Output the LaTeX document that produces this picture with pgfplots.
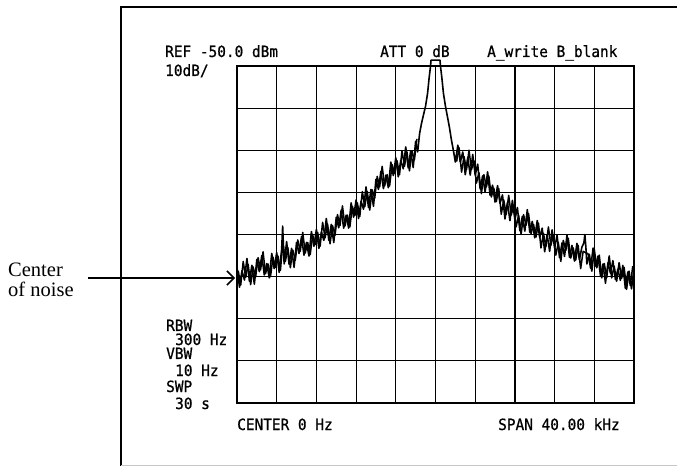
\documentclass[border=0pt]{standalone}
\usepackage{fontspec}
\newfontfamily\plotfont[FakeStretch=0.93,FakeBold=0.8]{DejaVu Sans Mono}
\newfontfamily\capfont{Liberation Serif}
\usepackage{pgfplots}
\pgfplotsset{compat=1.18}
\usetikzlibrary{arrows.meta}

\begin{document}
\begin{tikzpicture}[x=1pt,y=1pt]
\path[use as bounding box] (0,0) rectangle (677,466);
% outer frame of the scanned page
\draw[line width=1.3pt] (121,0) -- (121,459) -- (677,459);
\draw[gray!45, line width=0.8pt] (121,1) -- (677,1);

\begin{axis}[
    at={(237pt,63pt)}, anchor=south west,
    scale only axis, width=397pt, height=337pt,
    xmin=-20, xmax=20, ymin=-130, ymax=-50,
    xtick={-20,-16,...,20}, ytick={-130,-120,...,-50},
    xticklabels={}, yticklabels={},
    major tick length=0pt,
    grid=major, grid style={black, line width=1.2pt},
    axis line style={line width=1.4pt},
    clip=false,
]
% spectrum trace: frequency (kHz), level (dBm)
\addplot[black, line width=1.6pt, line join=round] coordinates {
(-20.00,-97.8) (-19.75,-102.5) (-19.50,-98.6) (-19.25,-100.8) (-19.00,-95.7)
(-18.75,-101.1) (-18.50,-97.3) (-18.25,-101.8) (-18.00,-95.9) (-17.75,-98.8)
(-17.50,-95.0) (-17.25,-99.6) (-17.00,-96.9) (-16.75,-100.3) (-16.50,-94.5)
(-16.25,-98.1) (-16.00,-94.3) (-15.75,-99.0) (-15.50,-93.5) (-15.40,-88.0)
(-15.25,-97.0) (-15.00,-91.7) (-14.75,-97.1) (-14.50,-93.3) (-14.25,-97.8)
(-14.00,-91.9) (-13.75,-94.5) (-13.50,-90.5) (-13.25,-94.9) (-13.00,-91.9)
(-12.75,-95.1) (-12.50,-89.3) (-12.25,-92.8) (-12.00,-88.8) (-11.75,-93.3)
(-11.50,-89.4) (-11.25,-91.4) (-11.00,-86.2) (-10.75,-91.4) (-10.50,-87.6)
(-10.25,-91.9) (-10.00,-85.9) (-9.75,-88.4) (-9.50,-84.2) (-9.25,-88.5)
(-9.00,-85.4) (-8.75,-88.5) (-8.50,-82.5) (-8.25,-85.9) (-8.00,-81.8)
(-7.75,-86.2) (-7.50,-82.1) (-7.25,-84.0) (-7.00,-78.7) (-6.75,-83.6)
(-6.50,-79.3) (-6.25,-83.3) (-6.00,-76.9) (-5.75,-79.3) (-5.50,-75.0)
(-5.25,-79.1) (-5.00,-75.9) (-4.75,-78.9) (-4.50,-72.8) (-4.25,-76.0)
(-4.00,-71.8) (-3.75,-76.3) (-3.50,-72.4) (-3.25,-74.4) (-3.00,-69.2)
(-2.75,-74.2) (-2.50,-70.1) (-2.25,-74.1) (-2.00,-67.9) (-1.80,-70.4)
(-1.60,-66.0) (-1.40,-63.5) (-1.20,-61.5) (-1.00,-59.5) (-0.80,-56.5)
(-0.65,-53.0) (-0.50,-50.0) (-0.45,-48.6) (0.45,-48.6) (0.50,-50.0)
(0.65,-53.0) (0.80,-56.5) (1.00,-59.5) (1.20,-62.0) (1.40,-64.5)
(1.60,-67.5) (1.80,-70.0)
(2.00,-72.8) (2.25,-68.8) (2.50,-72.8) (2.75,-70.4) (3.00,-75.8)
(3.25,-71.7) (3.50,-75.9) (3.75,-71.0) (4.00,-75.9) (4.25,-73.3)
(4.50,-79.2) (4.75,-76.1) (5.00,-79.9) (5.25,-75.1) (5.50,-80.7)
(5.75,-78.3) (6.00,-82.3) (6.25,-78.4) (6.50,-82.6) (6.75,-80.6)
(7.00,-86.3) (7.25,-82.4) (7.50,-86.7) (7.75,-81.9) (8.00,-86.5)
(8.25,-83.6) (8.50,-89.1) (8.75,-85.7) (9.00,-89.2) (9.25,-84.1)
(9.50,-89.5) (9.75,-86.9) (10.00,-90.8) (10.25,-86.7) (10.50,-90.7)
(10.75,-88.5) (11.00,-94.1) (11.25,-90.0) (11.50,-94.0) (11.75,-88.9)
(12.00,-93.2) (12.25,-90.2) (12.50,-95.5) (12.75,-92.0) (13.00,-95.2)
(13.25,-90.1) (13.50,-95.4) (13.75,-92.6) (14.00,-96.3) (14.25,-92.1)
(14.50,-96.0) (14.75,-93.0) (14.95,-92.0) (15.05,-90.0) (15.15,-93.0)
(15.25,-97.0) (15.50,-94.7) (15.75,-98.7) (16.00,-93.6) (16.25,-97.9)
(16.50,-94.9) (16.75,-100.3) (17.00,-96.9) (17.25,-100.2) (17.50,-95.1)
(17.75,-100.3) (18.00,-97.5) (18.25,-101.1) (18.50,-96.7) (18.75,-100.4)
(19.00,-97.8) (19.25,-103.0) (19.50,-98.7) (19.75,-102.9) (20.00,-98.0)
};
% in-between samples of the noise band, left of the carrier
\addplot[black, line width=1.5pt, line join=round] coordinates {
(-19.875,-98.6) (-19.625,-102.0) (-19.375,-96.4) (-19.125,-100.2) (-18.875,-97.1)
(-18.625,-101.9) (-18.375,-97.7) (-18.125,-100.1) (-17.875,-95.5) (-17.625,-98.4)
(-17.375,-94.1) (-17.125,-99.3) (-16.875,-97.0) (-16.625,-100.0) (-16.375,-95.4)
(-16.125,-97.8) (-15.875,-95.1) (-15.625,-98.5) (-15.375,-92.0) (-15.125,-96.4)
(-14.875,-93.1) (-14.625,-97.9) (-14.375,-93.7) (-14.125,-96.1) (-13.875,-91.3)
(-13.625,-94.0) (-13.375,-89.5) (-13.125,-94.4) (-12.875,-91.9) (-12.625,-94.8)
(-12.375,-90.1) (-12.125,-92.4) (-11.875,-89.5) (-11.625,-92.8) (-11.375,-87.1)
(-11.125,-90.8) (-10.875,-87.5) (-10.625,-92.2) (-10.375,-87.9) (-10.125,-90.2)
(-9.875,-85.3) (-9.625,-87.9) (-9.375,-83.2) (-9.125,-88.0) (-8.875,-85.4)
(-8.625,-88.2) (-8.375,-83.3) (-8.125,-85.5) (-7.875,-82.5) (-7.625,-85.7)
(-7.375,-79.8) (-7.125,-83.4) (-6.875,-79.8) (-6.625,-84.2) (-6.375,-79.4)
(-6.125,-81.4) (-5.875,-76.2) (-5.625,-78.7) (-5.375,-73.8) (-5.125,-78.5)
(-4.875,-75.8) (-4.625,-78.5) (-4.375,-73.4) (-4.125,-75.5) (-3.875,-72.5)
(-3.625,-75.8) (-3.375,-70.1) (-3.125,-73.8) (-2.875,-70.4) (-2.625,-74.9)
(-2.375,-70.2) (-2.125,-72.3) (-1.875,-67.3)
};
% in-between samples of the noise band, right of the carrier
\addplot[black, line width=1.5pt, line join=round] coordinates {
(2.125,-72.7) (2.375,-69.4) (2.625,-75.2) (2.875,-71.5) (3.125,-74.6)
(3.375,-70.0) (3.625,-74.6) (3.875,-72.5) (4.125,-77.8) (4.375,-75.3)
(4.625,-80.3) (4.875,-75.8) (5.125,-78.7) (5.375,-76.1) (5.625,-81.1)
(5.875,-79.0) (6.125,-82.2) (6.375,-79.1) (6.625,-85.2) (6.875,-81.8)
(7.125,-85.2) (7.375,-80.7) (7.625,-85.4) (7.875,-83.3) (8.125,-88.2)
(8.375,-85.4) (8.625,-90.0) (8.875,-85.3) (9.125,-87.8) (9.375,-85.0)
(9.625,-89.8) (9.875,-87.6) (10.125,-90.6) (10.375,-87.3) (10.625,-93.2)
(10.875,-89.7) (11.125,-92.9) (11.375,-88.2) (11.625,-92.6) (11.875,-90.1)
(12.125,-94.9) (12.375,-91.9) (12.625,-96.4) (12.875,-91.4) (13.125,-93.8)
(13.375,-90.9) (13.625,-95.6) (13.875,-93.2) (14.125,-96.1) (14.375,-92.6)
(14.625,-98.1) (14.875,-94.0) (15.375,-94.6) (15.625,-98.0) (15.875,-93.2)
(16.125,-97.5) (16.375,-95.1) (16.625,-99.9) (16.875,-97.0) (17.125,-101.6)
(17.375,-96.7) (17.625,-99.2) (17.875,-96.2) (18.125,-100.7) (18.375,-98.2)
(18.625,-100.9) (18.875,-97.3) (19.125,-102.8) (19.375,-98.9) (19.625,-102.1)
(19.875,-97.5)
};
\end{axis}

% instrument annotations
\begin{scope}[every node/.style={inner sep=0pt, anchor=base west, font=\plotfont\fontsize{15.5}{16}\selectfont}]
\node at (165,409) {REF -50.0 dBm};
\node at (165,390) {10dB/};
\node at (380,409) {ATT 0 dB};
\node at (487,409) {A\_write B\_blank};
\node at (166,135) {RBW};
\node at (175,121) {300 Hz};
\node at (166,107) {VBW};
\node at (175,90) {10 Hz};
\node at (166,74) {SWP};
\node at (175,57) {30 s};
\node at (237,36) {CENTER 0 Hz};
\node at (498,36) {SPAN 40.00 kHz};
\end{scope}

% callout
\node[inner sep=0pt, anchor=base west, font=\capfont\fontsize{20.5}{21}\selectfont] at (8,189) {Center};
\node[inner sep=0pt, anchor=base west, font=\capfont\fontsize{20.5}{21}\selectfont] at (8,169) {of noise};
\draw[line width=1.5pt, -{Straight Barb[length=7pt,width=14pt,line width=1.5pt]}] (88,188) -- (235,188);
\end{tikzpicture}
\end{document}
